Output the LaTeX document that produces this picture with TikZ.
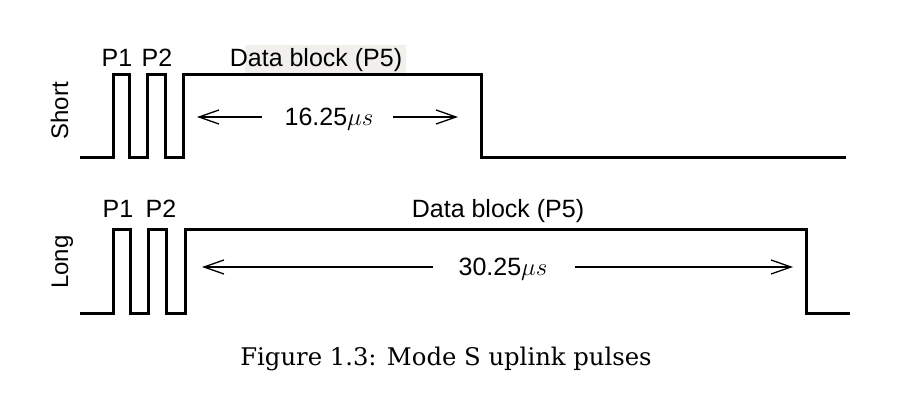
\documentclass[tikz,border=0pt]{standalone}
\usepackage{fontspec}
\setmainfont{Liberation Sans}
\newfontfamily\capfont{DejaVu Serif}
\usetikzlibrary{arrows.meta}
\begin{document}
\begin{tikzpicture}[x=1pt,y=-1pt,
  wave/.style={line width=3pt, line join=miter},
  dimline/.style={line width=1.3pt},
  dimarrow/.style={dimline, -{Straight Barb[length=20pt,width=14pt,line width=1.3pt]}},
  lbl/.style={font=\fontsize{25}{30}\selectfont, anchor=base, inner sep=0pt},
  side/.style={font=\fontsize{24}{28}\selectfont, anchor=base, inner sep=0pt, rotate=90},
]
\useasboundingbox (0,0) rectangle (915,401);
% highlight behind short data label
\fill[fill={rgb,255:red,241;green,240;blue,237}] (245,45) rectangle (406,74);
% Short waveform
\draw[wave] (80,157) -| (113,75) -| (129,157) -| (147,75) -| (165,157) -| (183,75) -| (481,157) -- (846,157);
% Long waveform
\draw[wave] (80,313) -| (113,229) -| (130,313) -| (148,229) -| (166,313) -| (185,229) -| (806,313) -- (850,313);
% labels
\node[side] (short) at (68,111) {Short};
\node[side] (long) at (68,262) {Long};
\node[lbl] (sp1) at (117,67) {P1};
\node[lbl] (sp2) at (157,67) {P2};
\node[lbl] (sdata) at (316,67) {Data block (P5)};
\node[lbl] (lp1) at (118,217) {P1};
\node[lbl] (lp2) at (161,217) {P2};
\node[lbl] (ldata) at (498,217) {Data block (P5)};
\node[lbl] (sdur) at (329,125) {16.25$\mu s$};
\node[lbl] (ldur) at (503,275) {30.25$\mu s$};
% dimension arrows
\coordinate (s1) at (262,117); \coordinate (s1t) at (197,117);
\coordinate (s2) at (393,117); \coordinate (s2t) at (458,117);
\coordinate (l1) at (433,267); \coordinate (l1t) at (202,267);
\coordinate (l2) at (575,267); \coordinate (l2t) at (793,267);
\draw[dimarrow] (s1) -- (s1t);
\draw[dimarrow] (s2) -- (s2t);
\draw[dimarrow] (l1) -- (l1t);
\draw[dimarrow] (l2) -- (l2t);
% caption
\node[anchor=base, inner sep=0pt, font=\capfont\fontsize{24.3}{28}\selectfont] (cap) at (446,365) {Figure 1.3: Mode S uplink pulses};
\end{tikzpicture}
\end{document}
